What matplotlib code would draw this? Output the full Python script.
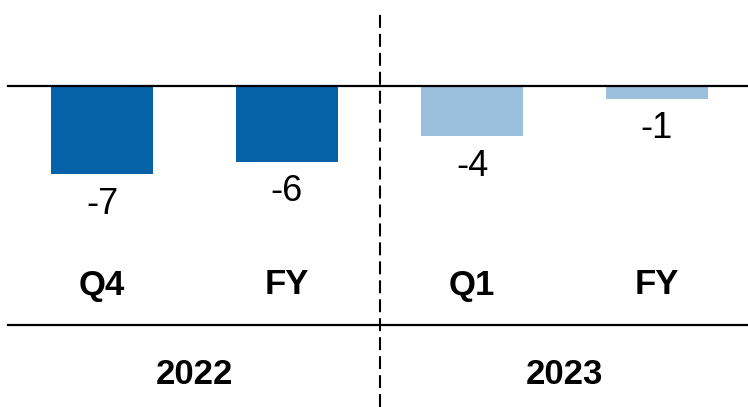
import matplotlib
matplotlib.use("Agg")
import matplotlib.pyplot as plt

plt.rcParams["font.family"] = ["Liberation Sans", "DejaVu Sans"]

# chart data
periods = ["Q4", "FY", "Q1", "FY"]
years = ["2022", "2023"]
values = [-7, -6, -4, -1]
bar_colors = ["#0561A8", "#0561A8", "#9BC0DD", "#9BC0DD"]

W, H, DPI = 748, 407, 100
PX_X = 185.0  # pixels per category step
PX_Y = 12.6   # pixels per unit
X0_PX = 102.0  # first bar centre
Y0_PX = 86.0   # zero line from top

fig = plt.figure(figsize=(W / DPI, H / DPI), dpi=DPI)
ax = fig.add_axes([0, 0, 1, 1])
ax.set_xlim(-X0_PX / PX_X, (W - X0_PX) / PX_X)
ax.set_ylim(-(H - Y0_PX) / PX_Y, Y0_PX / PX_Y)
ax.axis("off")

x = list(range(len(values)))
ax.bar(x, values, width=102 / PX_X, color=bar_colors, zorder=2)

for xi, v in zip(x, values):
    ax.annotate(f"{v:d}", (xi, v), xytext=(0, -9), textcoords="offset points",
                ha="center", va="top", fontsize=26, color="black")

# category labels and year labels
y_cat = -(285 - Y0_PX) / PX_Y
for xi, p in zip(x, periods):
    ax.text(xi, y_cat, p, ha="center", va="center", fontsize=25,
            fontweight="bold")
y_year = -(375 - Y0_PX) / PX_Y
for i, yr in enumerate(years):
    ax.text(2 * i + 0.5, y_year, yr, ha="center", va="center", fontsize=25,
            fontweight="bold")

# horizontal rules
x_start = 8 / W
ax.axhline(0, xmin=x_start, xmax=1, color="black", lw=1.6, zorder=3)
ax.axhline(-(325 - Y0_PX) / PX_Y, xmin=x_start, xmax=1, color="black",
           lw=1.6, zorder=3)

# dashed separator between years
ax.axvline(1.5, ymin=0, ymax=1 - 13 / H, color="black", lw=1.5,
           linestyle=(0, (6.2, 2.9)), zorder=3)

fig.savefig("out.png", dpi=DPI)
